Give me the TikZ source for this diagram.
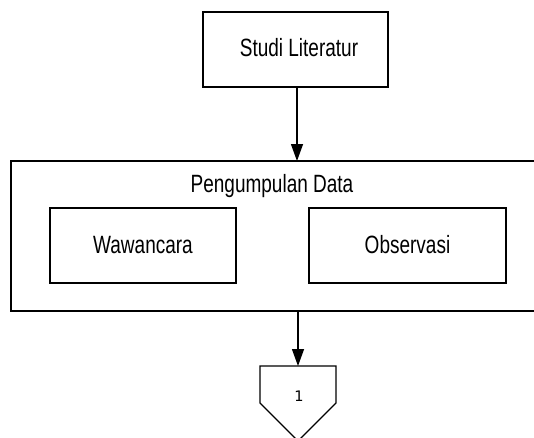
\documentclass[tikz,border=0pt]{standalone}
\usepackage{fontspec}
\setmainfont{Liberation Sans}
\newfontfamily\narrowfont[FakeStretch=0.76]{Liberation Sans}
\newfontfamily\digitfont{DejaVu Sans}
\usetikzlibrary{arrows.meta}
\begin{document}
\begin{tikzpicture}[x=1pt,y=-1pt,
  every node/.style={inner sep=0pt, outer sep=0pt},
  procbox/.style={draw, line width=1.3pt, rectangle, minimum height=75pt},
  lbl/.style={font=\narrowfont\fontsize{25}{30}\selectfont, anchor=center},
  conn/.style={line width=1.3pt, -{Triangle[length=17pt,width=12pt]}}]
\useasboundingbox (0,0) rectangle (534,437);
\clip (0,0) rectangle (534,437);
\node[procbox, minimum width=185pt] (studi) at (295.5,49.5) {};
\node[lbl] (studit) at (299,48) {Studi Literatur};
\node[procbox, minimum width=534pt, minimum height=150pt] (kumpul) at (278,236) {};
\node[lbl] (kumpult) at (272,186) {Pengumpulan Data};
\node[procbox, minimum width=186pt] (waw) at (143,245.5) {};
\node[lbl] at (143,245) {Wawancara};
\node[procbox, minimum width=197pt] (obs) at (407.5,245.5) {};
\node[lbl] at (407.5,245) {Observasi};
\coordinate (ptop) at (298,366);
\draw[line width=1.3pt, line join=miter] (260,366) -- (336,366) -- (336,403) -- (298,441) -- (260,403) -- cycle;
\node[font=\digitfont\fontsize{14.5}{17}\selectfont] (one) at (299,396) {1};
\draw[conn] (studi.south -| 297,0) -- (kumpul.north -| 297,0);
\draw[conn] (kumpul.south -| ptop) -- (ptop);
\end{tikzpicture}
\end{document}
